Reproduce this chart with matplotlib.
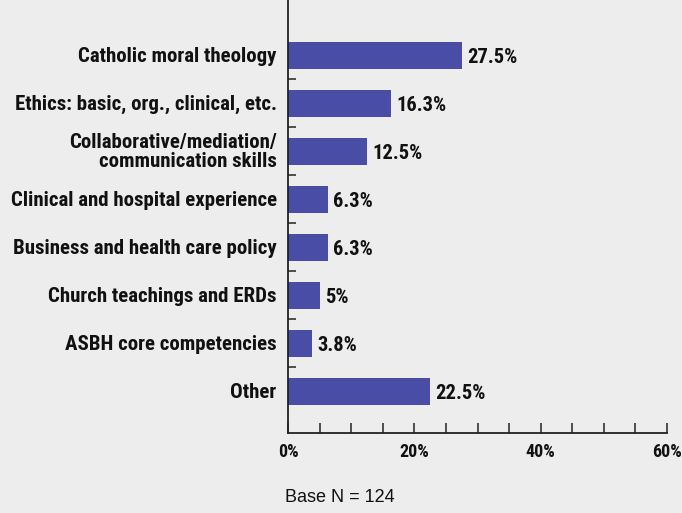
import matplotlib
matplotlib.use("Agg")
import matplotlib.pyplot as plt
from matplotlib import font_manager
from matplotlib.ticker import MultipleLocator, FixedLocator

categories = [
    "Catholic moral theology",
    "Ethics: basic, org., clinical, etc.",
    "Collaborative/mediation/\ncommunication skills",
    "Clinical and hospital experience",
    "Business and health care policy",
    "Church teachings and ERDs",
    "ASBH core competencies",
    "Other",
]
values = [27.5, 16.3, 12.5, 6.3, 6.3, 5.0, 3.8, 22.5]
value_labels = ["27.5%", "16.3%", "12.5%", "6.3%", "6.3%", "5%", "3.8%", "22.5%"]
x_ticks = [0, 20, 40, 60]
x_tick_labels = ["0%", "20%", "40%", "60%"]
base_note = "Base N = 124"

bg = "#ededed"
bar_color = "#4a4da5"


def pick_font(candidates, min_weight):
    """Return the file of the first installed condensed face heavy enough."""
    for name in candidates:
        for f in font_manager.fontManager.ttflist:
            w = f.weight if isinstance(f.weight, int) else 400
            if f.name == name and w >= min_weight and f.style == "normal":
                return f.fname
    return None


bold_file = pick_font(["Roboto Condensed", "Fira Sans Condensed",
                       "Barlow Semi Condensed", "Encode Sans Condensed",
                       "Open Sans Condensed"], 700)


def bold_props(size):
    if bold_file:
        return font_manager.FontProperties(fname=bold_file, size=size)
    return font_manager.FontProperties(family="DejaVu Sans", weight="bold", size=size)


fig = plt.figure(figsize=(6.82, 5.13), dpi=100, facecolor=bg)
ax = fig.add_axes([288 / 682, 1 - 433 / 513, 379 / 682, 433 / 513])
ax.set_facecolor(bg)

ypos = list(range(len(categories)))
ax.barh(ypos, values, height=0.57, color=bar_color, zorder=2)
ax.set_ylim(7.87, -1.15)
ax.set_xlim(0, 60)

for y, v, lab in zip(ypos, values, value_labels):
    ax.text(v + 0.8, y + 0.04, lab, va="center", ha="left",
            fontproperties=bold_props(14.8), color="#111111")

for y, cat in zip(ypos, categories):
    ax.text(-1.8, y + 0.02, cat, va="center", ha="right",
            fontproperties=bold_props(15), color="#111111",
            multialignment="right", linespacing=1.0)

for s in ["top", "right"]:
    ax.spines[s].set_visible(False)
for s in ["left", "bottom"]:
    ax.spines[s].set_color("#222222")
    ax.spines[s].set_linewidth(1.3)

ax.xaxis.set_major_locator(FixedLocator(x_ticks))
ax.xaxis.set_minor_locator(MultipleLocator(5))
ax.set_xticklabels(x_tick_labels)
for t in ax.get_xticklabels():
    t.set_fontproperties(bold_props(13))
    t.set_color("#111111")
ax.tick_params(axis="x", which="both", direction="in", length=7.5,
               width=1.1, color="#222222", pad=7.5)

ax.yaxis.set_major_locator(FixedLocator([]))
ax.yaxis.set_minor_locator(FixedLocator([i + 0.5 for i in range(len(categories) - 1)]))
ax.tick_params(axis="y", which="minor", direction="in", length=6,
               width=1.1, color="#222222")

fig.text(285 / 682, 1 - 498 / 513, base_note, ha="left", va="center",
         fontsize=13, family=["Liberation Sans", "DejaVu Sans"], color="#111111")

fig.savefig("out.png", dpi=100, facecolor=bg)
